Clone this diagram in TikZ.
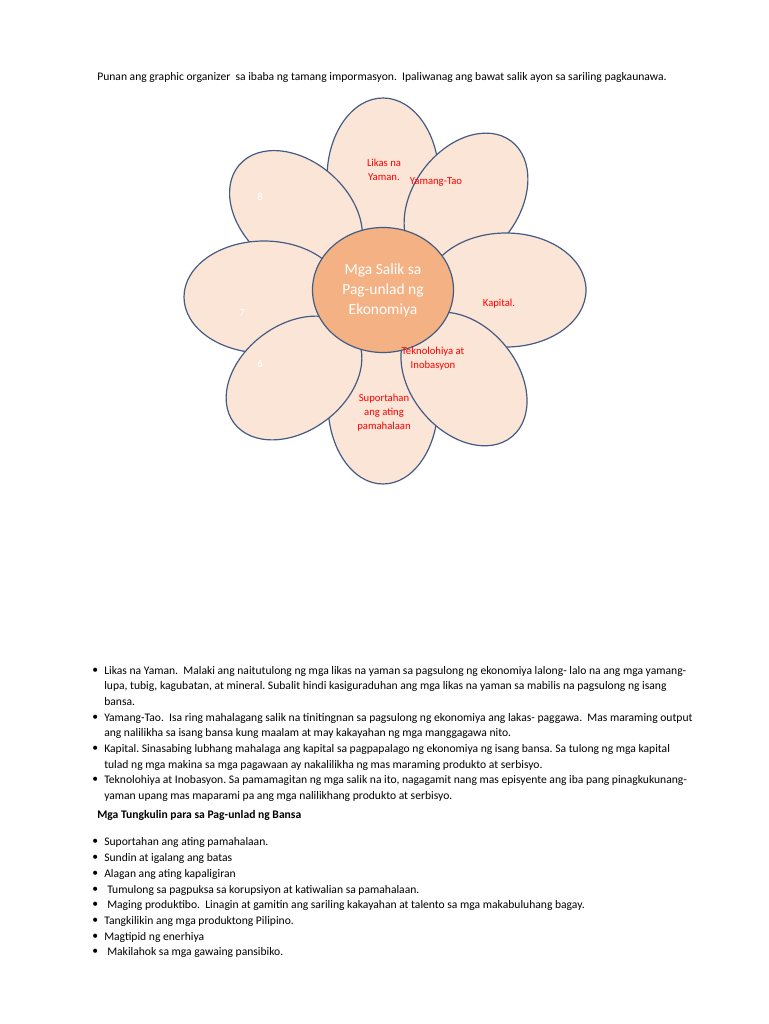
\documentclass[tikz,border=0pt]{standalone}
\usepackage{fontspec}
\setmainfont{Carlito}
\usetikzlibrary{shapes.geometric}
\definecolor{petalfill}{RGB}{251,229,214}
\definecolor{petalline}{RGB}{68,92,132}
\definecolor{hubfill}{RGB}{244,177,131}

\begin{document}
\begin{tikzpicture}[x=0.75pt, y=-0.75pt,
  petal/.style={ellipse, draw=petalline, line width=0.9pt, fill=petalfill, inner sep=0pt},
  tag/.style={text=red, font=\fontsize{8}{10.5}\selectfont, align=center, inner sep=0pt},
  num/.style={text=white, font=\fontsize{8}{10}\selectfont, inner sep=0pt},
  txt/.style={anchor=west, inner sep=0pt, font=\fontsize{8.7}{10.5}\selectfont, text height=0.7em, text depth=0.2em},
  dot/.style={anchor=west, inner sep=0pt, font=\fontsize{8.7}{10.5}\selectfont}]
  \useasboundingbox (0,0) rectangle (768,1024);
  \fill[white] (0,0) rectangle (768,1024);

  \node[txt] (title) at (97,77) {Punan ang graphic organizer\ \ sa ibaba ng tamang impormasyon.\ \ Ipaliwanag ang bawat salik ayon sa sariling pagkaunawa.};

  \node[petal, rotate=90, minimum width=120pt, minimum height=84pt] (likas) at (383,178) {};
  \node[petal, rotate=90, minimum width=120pt, minimum height=82.5pt] (suporta) at (383,404) {};
  \node[petal, rotate=53, minimum width=112.5pt, minimum height=79.5pt] (tao) at (466,201) {};
  \node[petal, minimum width=120pt, minimum height=85.5pt] (kapital) at (506,290) {};
  \node[petal, rotate=-50, minimum width=112.5pt, minimum height=79.5pt] (tekno) at (464,379) {};
  \node[petal, rotate=-41, minimum width=112.5pt, minimum height=79.5pt] (p8) at (296,214) {};
  \node[petal, minimum width=120pt, minimum height=84pt] (p7) at (264,297) {};
  \node[petal, rotate=37, minimum width=112.5pt, minimum height=79.5pt] (p6) at (294,378) {};
  \node[ellipse, draw=petalline, line width=0.9pt, fill=hubfill, inner sep=0pt,
        minimum width=105.75pt, minimum height=93.75pt, text=white, align=center,
        font=\fontsize{11.6}{15}\selectfont] (hub) at (383,290) {Mga Salik sa\\Pag-unlad ng\\Ekonomiya};

  \node[tag] (likastxt) at (384,170) {Likas na\\Yaman.};
  \node[tag] (taotxt) at (436,182) {Yamang-Tao};
  \node[tag] (kapitaltxt) at (499,304) {Kapital.};
  \node[tag] (teknotxt) at (433,359) {Teknolohiya at\\Inobasyon};
  \node[tag] (suportatxt) at (384,413) {Suportahan\\ang ating\\pamahalaan};
  \node[num] (n8) at (260,197) {8};
  \node[num] (n7) at (242,313) {7};
  \node[num] (n6) at (260,364) {6};

  \foreach \y [count=\i] in {671,718,749,780,842,858,874,890,905,921,937,952}
    \node[dot] (dot\i) at (92,\y) {\textbullet};

  \node[txt] (l1) at (104,671) {Likas na Yaman.\ \ Malaki ang naitutulong ng mga likas na yaman sa pagsulong ng ekonomiya lalong- lalo na ang mga yamang-};
  \node[txt] (l2) at (104,686) {lupa, tubig,\ kagubatan,\ at mineral.\ Subalit hindi kasiguraduhan ang mga likas na yaman sa mabilis na pagsulong ng isang};
  \node[txt] (l3) at (104,702) {bansa.};
  \node[txt] (l4) at (104,718) {Yamang-Tao.\ \ Isa ring mahalagang salik na tinitingnan sa pagsulong ng ekonomiya ang lakas- paggawa.\ \ Mas maraming output};
  \node[txt] (l5) at (104,733) {ang nalilikha sa isang bansa kung maalam at may kakayahan ng mga manggagawa nito.};
  \node[txt] (l6) at (104,749) {Kapital.\ Sinasabing lubhang mahalaga ang kapital sa pagpapalago ng ekonomiya ng isang bansa.\ Sa tulong ng mga kapital};
  \node[txt] (l7) at (104,765) {tulad ng mga makina sa mga pagawaan ay nakalilikha ng mas maraming produkto at serbisyo.};
  \node[txt] (l8) at (104,780) {Teknolohiya at Inobasyon.\ Sa pamamagitan ng mga salik na ito, nagagamit nang mas episyente ang iba pang pinagkukunang-};
  \node[txt] (l9) at (104,796) {yaman upang mas maparami pa ang mga nalilikhang produkto at serbisyo.};

  \node[txt, font=\fontsize{8.7}{10.5}\selectfont\bfseries] (heading) at (97,815) {Mga Tungkulin para sa Pag-unlad ng Bansa};

  \node[txt] (t1) at (104,842) {Suportahan ang ating pamahalaan.};
  \node[txt] (t2) at (104,858) {Sundin at igalang ang batas};
  \node[txt] (t3) at (104,874) {Alagan ang ating kapaligiran};
  \node[txt] (t4) at (107,890) {Tumulong sa pagpuksa sa korupsiyon at katiwalian sa pamahalaan.};
  \node[txt] (t5) at (107,905) {Maging produktibo.\ \ Linagin at gamitin ang sariling kakayahan at talento sa mga makabuluhang bagay.};
  \node[txt] (t6) at (104,921) {Tangkilikin ang mga produktong Pilipino.};
  \node[txt] (t7) at (104,937) {Magtipid ng enerhiya};
  \node[txt] (t8) at (107,952) {Makilahok sa mga gawaing pansibiko.};
\end{tikzpicture}
\end{document}
